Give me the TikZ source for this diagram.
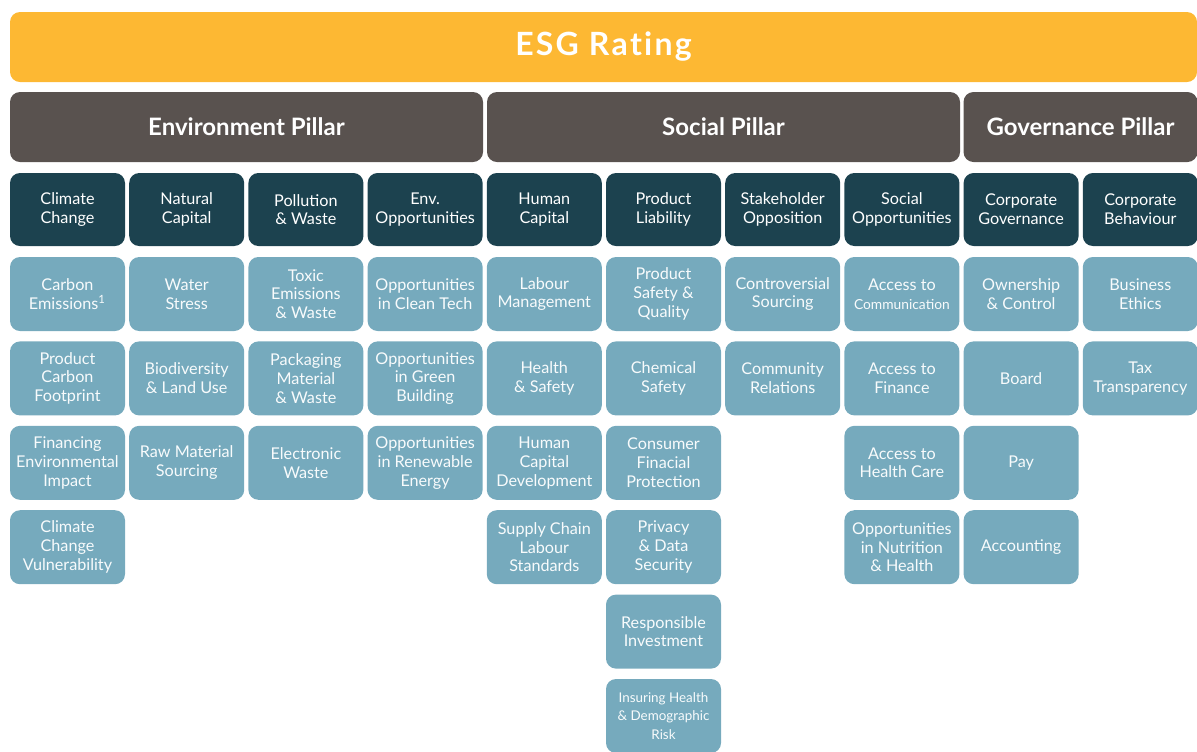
\documentclass[tikz,border=0pt]{standalone}
\usepackage{fontspec}
\setmainfont{Lato}
\definecolor{esgorange}{HTML}{FDB833}
\definecolor{pillargrey}{HTML}{59524F}
\definecolor{catteal}{HTML}{1C424F}
\definecolor{itemblue}{HTML}{76AABD}
\newcommand\itm[4]{\node[item] (#1) at ({67.5+(#2-1)*119.2},{294+(#3-1)*84.4}) {#4};}
\newcommand\catb[3]{\node[cat] (#1) at ({67.5+(#2-1)*119.2},209.5) {#3};}
\newcommand\ls{\kern1.1pt}
\begin{document}
\begin{tikzpicture}[x=0.5pt,y=-0.5pt,
  box/.style={rounded corners=5pt, minimum width=57.5pt, inner sep=0pt, align=center, text=white,
    font=\fontsize{8.1}{9.4}\selectfont},
  item/.style={box, fill=itemblue, minimum height=37pt, text=white!95!itemblue},
  cat/.style={box, fill=catteal, minimum height=36.5pt},
  pillar/.style={rounded corners=5pt, fill=pillargrey, inner sep=0pt, minimum height=35pt, text=white,
    font=\bfseries\fontsize{12}{14}\selectfont},
  title/.style={rounded corners=5pt, fill=esgorange, inner sep=0pt, minimum height=35pt, text=white,
    font=\bfseries\fontsize{16}{18}\selectfont}]
\useasboundingbox (0,0) rectangle (1197,751);
\node[title, minimum width=593.5pt] (esg) at (603.5,47) {E\ls S\ls G\ls\ R\ls a\ls t\ls i\ls n\ls g};
\node[pillar, minimum width=236.5pt] (env) at (246.5,127) {Environment Pillar};
\node[pillar, minimum width=236.5pt] (soc) at (723.5,127) {Social Pillar};
\node[pillar, minimum width=117pt] (gov) at (1080.5,127) {Governance Pillar};
% categories
\catb{c1}{1}{Climate\\Change}
\catb{c2}{2}{Natural\\Capital}
\catb{c3}{3}{Pollution\\\& Waste}
\catb{c4}{4}{Env.\\Opportunities}
\catb{c5}{5}{Human\\Capital}
\catb{c6}{6}{Product\\Liability}
\catb{c7}{7}{Stakeholder\\Opposition}
\catb{c8}{8}{Social\\Opportunities}
\catb{c9}{9}{Corporate\\Governance}
\catb{c10}{10}{Corporate\\Behaviour}
% col 1
\itm{i11}{1}{1}{Carbon\\Emissions\textsuperscript{1}}
\itm{i12}{1}{2}{Product\\Carbon\\Footprint}
\itm{i13}{1}{3}{Financing\\Environmental\\Impact}
\itm{i14}{1}{4}{Climate\\Change\\Vulnerability}
% col 2
\itm{i21}{2}{1}{Water\\Stress}
\itm{i22}{2}{2}{Biodiversity\\\& Land Use}
\itm{i23}{2}{3}{Raw Material\\Sourcing}
% col 3
\itm{i31}{3}{1}{Toxic\\Emissions\\\& Waste}
\itm{i32}{3}{2}{Packaging\\Material\\\& Waste}
\itm{i33}{3}{3}{Electronic\\Waste}
% col 4
\itm{i41}{4}{1}{Opportunities\\in Clean Tech}
\itm{i42}{4}{2}{Opportunities\\in Green\\Building}
\itm{i43}{4}{3}{Opportunities\\in Renewable\\Energy}
% col 5
\itm{i51}{5}{1}{Labour\\Management}
\itm{i52}{5}{2}{Health\\\& Safety}
\itm{i53}{5}{3}{Human\\Capital\\Development}
\itm{i54}{5}{4}{Supply Chain\\Labour\\Standards}
% col 6
\itm{i61}{6}{1}{Product\\Safety \&\\Quality}
\itm{i62}{6}{2}{Chemical\\Safety}
\itm{i63}{6}{3}{Consumer\\Finacial\\Protection}
\itm{i64}{6}{4}{Privacy\\\& Data\\Security}
\itm{i65}{6}{5}{Responsible\\Investment}
\itm{i66}{6}{6}{\fontsize{6.7}{9.4}\selectfont Insuring Health\\\fontsize{6.7}{9.4}\selectfont\& Demographic\\\fontsize{6.7}{9.4}\selectfont Risk}
% col 7
\itm{i71}{7}{1}{Controversial\\Sourcing}
\itm{i72}{7}{2}{Community\\Relations}
% col 8
\itm{i81}{8}{1}{Access to\\\fontsize{6.9}{9.4}\selectfont Communication}
\itm{i82}{8}{2}{Access to\\Finance}
\itm{i83}{8}{3}{Access to\\Health Care}
\itm{i84}{8}{4}{Opportunities\\in Nutrition\\\& Health}
% col 9
\itm{i91}{9}{1}{Ownership\\\& Control}
\itm{i92}{9}{2}{Board}
\itm{i93}{9}{3}{Pay}
\itm{i94}{9}{4}{Accounting}
% col 10
\itm{i101}{10}{1}{Business\\Ethics}
\itm{i102}{10}{2}{Tax\\Transparency}
\end{tikzpicture}
\end{document}
